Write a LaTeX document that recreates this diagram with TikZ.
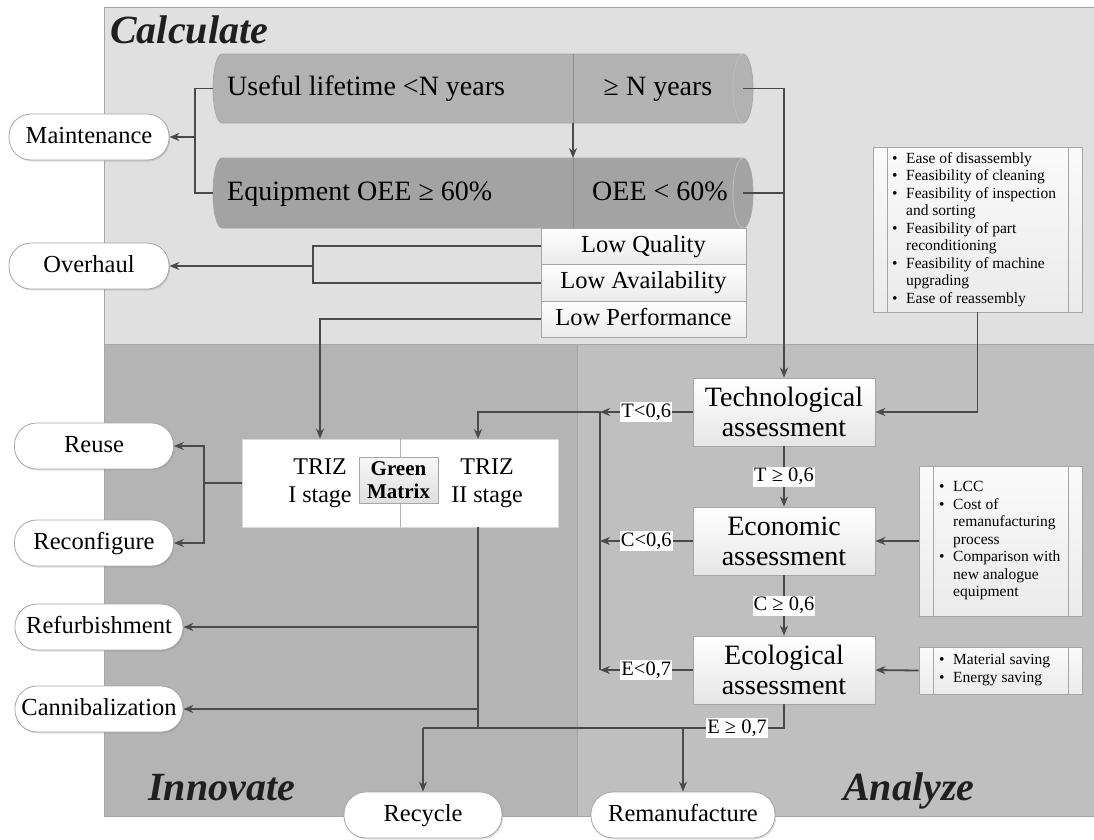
\documentclass[tikz,border=0pt]{standalone}
\usepackage{fontspec}
\setmainfont{Liberation Serif}
\usetikzlibrary{arrows.meta,calc,shadows}

\definecolor{calcgray}{HTML}{E0E0E0}
\definecolor{innogray}{HTML}{B4B4B4}
\definecolor{anagray}{HTML}{BFBFBF}
\definecolor{cylupper}{HTML}{B2B2B2}
\definecolor{cyllower}{HTML}{A3A3A3}
\definecolor{wire}{HTML}{4A4A4A}
\definecolor{rim}{HTML}{A6A6A6}

\newcommand{\fsz}[2]{\fontsize{#1}{#2}\selectfont}
\newcommand{\bul}{\makebox[14pt][l]{\textbullet}}
\newcommand{\cont}{\hspace*{14pt}}
% cylinder: top y, bottom y, half height, fill
\newcommand{\cyl}[4]{%
  \filldraw[fill=#4, draw=rim, line width=0.8pt] (222,#1) -- (743,#1)
    arc[start angle=90, end angle=-90, x radius=10pt, y radius=#3pt] -- (222,#2)
    arc[start angle=-90, end angle=-270, x radius=9pt, y radius=#3pt] -- cycle;
  \draw[draw=black!25, line width=0.8pt] (743,#1) arc[start angle=90, end angle=270, x radius=10pt, y radius=#3pt];
  \draw[draw=black!45, line width=0.8pt] (573,#1) -- (573,#2);}

\tikzset{
  panel/.style={draw=rim, line width=0.8pt},
  wire/.style={draw=wire, line width=1.8pt},
  arr/.style={wire, -{Stealth[length=10pt,width=8pt]}},
  title/.style={font=\fsz{40}{44}\bfseries\itshape, text=black!88, anchor=base west, inner sep=0pt},
  cyltext/.style={font=\fsz{28}{30}, inner sep=0pt, text height=20pt, text depth=6pt},
  outcome/.style={draw=rim, fill=white, rounded corners=22pt, minimum height=46pt,
    line width=0.8pt, font=\fsz{24.5}{28}, inner sep=0pt, text height=17pt, text depth=5pt,
    drop shadow={opacity=0.25, shadow xshift=1.2pt, shadow yshift=-1.5pt}},
  assess/.style={draw=rim, top color=white, bottom color=black!10, minimum width=182pt,
    minimum height=68pt, line width=0.8pt, font=\fsz{28}{30}, align=center, inner sep=0pt},
  lowbox/.style={draw=rim, top color=white, bottom color=black!8, minimum width=205pt,
    minimum height=36.5pt, line width=0.8pt, font=\fsz{24.5}{28}, inner sep=0pt,
    text height=17pt, text depth=5pt},
  crit/.style={draw=rim, top color=black!2, bottom color=black!8, line width=0.8pt, inner sep=0pt},
  crittext/.style={anchor=west, align=left, font=\fsz{15.5}{17.5}, inner sep=0pt},
  trizbox/.style={draw=black!15, fill=white, minimum width=316pt, minimum height=88pt, line width=0.8pt},
  trizfont/.style={font=\fsz{24}{28}, align=center, inner sep=0pt},
  greenbox/.style={draw=rim, top color=black!3, bottom color=black!13, minimum width=79pt,
    minimum height=46pt, font=\fsz{21}{23}\bfseries, align=center, inner sep=0pt, line width=0.8pt},
  cond/.style={fill=white, inner sep=1pt, font=\fsz{20.5}{22}, text height=14pt, text depth=4pt},
}

\begin{document}
\begin{tikzpicture}[x=1pt, y=-1pt]
  %%%%% START %%%%%
  \useasboundingbox (0,0) rectangle (1094,839);

  % panels
  \fill[calcgray] (104,7) rectangle (1094,344);
  \fill[innogray] (104,344) rectangle (577,816);
  \fill[anagray] (577,344) rectangle (1094,816);
  \draw[panel] (1094,7) -- (104,7) -- (104,816) -- (1094,816);
  \draw[panel] (104,344) -- (1094,344);
  \draw[panel] (577,344) -- (577,816);

  \node[title] (calc) at (110,43) {Calculate};
  \node[title] (inno) at (148,800) {Innovate};
  \node[title] (ana) at (843,800) {Analyze};

  % cylinders
  \cyl{54}{123}{34.5}{cylupper}
  \cyl{158}{228}{35}{cyllower}
  \node[cyltext, anchor=west] (life) at (227,88.5) {Useful lifetime <N years};
  \node[cyltext] (lifeok) at (658,88.5) {≥ N years};
  \node[cyltext, anchor=west] (oeeok) at (227,193) {Equipment OEE ≥ 60\%};
  \node[cyltext] (oeelow) at (660,193) {OEE < 60\%};
  \coordinate (lifeL) at (213,88.5);
  \coordinate (lifeR) at (743,88.5);
  \coordinate (lifeB) at (573,123);
  \coordinate (oeeL) at (213,193);
  \coordinate (oeeR) at (743,193);
  \coordinate (oeeT) at (573,158);

  \node[lowbox] (lq) at (643.5,246.25) {Low Quality};
  \node[lowbox] (la) at (643.5,282.75) {Low Availability};
  \node[lowbox] (lp) at (643.5,319.25) {Low Performance};

  % outcomes
  \node[outcome, minimum width=160pt] (maint) at (89,137) {Maintenance};
  \node[outcome, minimum width=160pt] (overhaul) at (89,266) {Overhaul};
  \node[outcome, minimum width=159pt] (reuse) at (94,446) {Reuse};
  \node[outcome, minimum width=159pt] (reconf) at (94,543) {Reconfigure};
  \node[outcome, minimum width=168pt] (refurb) at (99,627) {Refurbishment};
  \node[outcome, minimum width=168pt] (cannib) at (99,709) {Cannibalization};
  \node[outcome, minimum width=158pt] (recyc) at (423,815) {Recycle};
  \node[outcome, minimum width=184pt] (reman) at (683,815) {Remanufacture};

  % TRIZ
  \node[trizbox] (triz) at (400,483) {};
  \draw[draw=black!30, line width=0.8pt] (triz.north) -- (triz.south);
  \node[trizfont] (trizA) at (320,483) {TRIZ\\I stage};
  \node[trizfont] (trizB) at (487,483) {TRIZ\\II stage};
  \node[greenbox] (green) at (398.5,480) {Green\\Matrix};
  \coordinate (trizIIin) at (478,439);
  \coordinate (trizIIout) at (478,527);

  % assessments
  \node[assess] (tech) at (784,412) {Technological\\assessment};
  \node[assess] (econ) at (784,541) {Economic\\assessment};
  \node[assess] (eco) at (784,670) {Ecological\\assessment};

  % criteria
  \node[crit, minimum width=209pt, minimum height=165pt] (critT) at (977.5,229.5) {};
  \node[crit, minimum width=163pt, minimum height=150pt] (critC) at (1000.5,541) {};
  \node[crit, minimum width=163pt, minimum height=47pt] (critE) at (1000.5,670.5) {};
  \foreach \b in {critT,critC,critE}{
    \draw[draw=rim, line width=0.8pt] ([xshift=15pt]\b.north west) -- ([xshift=15pt]\b.south west);
    \draw[draw=rim, line width=0.8pt] ([xshift=-14pt]\b.north east) -- ([xshift=-14pt]\b.south east);
  }
  \node[crittext] (critTtxt) at (892,229.5) {\bul Ease of disassembly\\ \bul Feasibility of cleaning\\
    \bul Feasibility of inspection\\ \cont and sorting\\ \bul Feasibility of part\\ \cont reconditioning\\
    \bul Feasibility of machine\\ \cont upgrading\\ \bul Ease of reassembly};
  \node[crittext] (critCtxt) at (939,541) {\bul LCC\\ \bul Cost of\\ \cont remanufacturing\\ \cont process\\
    \bul Comparison with\\ \cont new analogue\\ \cont equipment};
  \node[crittext] (critEtxt) at (939,670) {\bul Material saving\\ \bul Energy saving};

  % calculate connectors
  \coordinate (mbus) at (195,137);
  \draw[wire] (lifeL) -| (mbus) |- (oeeL);
  \draw[arr] (mbus) -- (maint.east);
  \draw[arr] (lifeB) -- (oeeT);
  \coordinate (rbus) at (784,193);
  \draw[wire] (lifeR) -| (rbus) -- (oeeR);
  \draw[arr] (rbus) -- (tech.north);
  \coordinate (obus) at (313,266);
  \draw[wire] (lq.west) -| (obus) |- (la.west);
  \draw[arr] (obus) -- (overhaul.east);
  \draw[arr] (lp.west) -| (trizA |- triz.north);

  % analyze connectors
  \coordinate (tbus) at (600,412);
  \coordinate (cbus) at (600,541);
  \coordinate (ebus) at (600,670);
  \draw[arr] (critT.south) |- (tech.east);
  \draw[arr] (critC.west) -- (econ.east);
  \draw[arr] (critE.west) -- (eco.east);
  \draw[arr] (ebus) -- (tbus) -| (trizIIin);
  \draw[arr] (tech.west) -- node[cond] (tlow) {T<0,6} (tbus);
  \draw[arr] (econ.west) -- node[cond] (clow) {C<0,6} (cbus);
  \draw[arr] (eco.west) -- node[cond] (elow) {E<0,7} (ebus);
  \draw[arr] (tech.south) -- node[cond] (thigh) {T ≥ 0,6} (econ.north);
  \draw[arr] (econ.south) -- node[cond] (chigh) {C ≥ 0,6} (eco.north);

  % innovate connectors
  \coordinate (lbus) at (204,483);
  \draw[wire] (triz.west) -- (lbus);
  \draw[arr] (lbus) |- (reuse.east);
  \draw[arr] (lbus) |- (reconf.east);
  \coordinate (rjoin) at (423,728);
  \coordinate (mjoin) at (683,728);
  \coordinate (tjoin) at (478,728);
  \draw[wire] (trizIIout) -- (tjoin);
  \draw[arr] (refurb.east -| tjoin) -- (refurb.east);
  \draw[arr] (cannib.east -| tjoin) -- (cannib.east);
  \draw[wire] (eco.south) |- node[cond, pos=0.565] (ehigh) {E ≥ 0,7} (rjoin);
  \draw[arr] (rjoin) -- (recyc.north);
  \draw[arr] (mjoin) -- (reman.north);

  %%%%% END %%%%%
\end{tikzpicture}
\end{document}
